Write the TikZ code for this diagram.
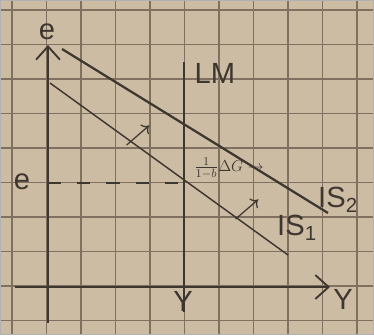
\documentclass[tikz,border=0pt]{standalone}
\usepackage{fontspec}
\setmainfont{Liberation Sans}
\usepackage{amsmath}
\usetikzlibrary{positioning, arrows.meta}
\definecolor{paper}{RGB}{205,188,164}
\definecolor{gridline}{RGB}{128,112,95}
\definecolor{pencil}{RGB}{62,55,48}

\begin{document}
\begin{tikzpicture}[
    x=0.0265cm, y=-0.0265cm,
    axis/.style={draw=pencil, line width=1.6pt, -{Straight Barb[length=10pt, width=18pt, line width=1.4pt]}},
    curve/.style={draw=pencil, line width=1.4pt},
    lbl/.style={text=pencil, font=\fontsize{22}{24}\selectfont, inner sep=0pt},
    smalllbl/.style={text=pencil, font=\fontsize{13}{14}\selectfont, inner sep=0pt},
    arrowmark/.style={text=pencil, font=\fontsize{17}{17}\selectfont\boldmath, inner sep=0pt}
]
    \fill[paper] (0,0) rectangle (374,335);
    \useasboundingbox (0,0) rectangle (374,335);
    \foreach \gx in {12,46.5,...,360}
        \draw[gridline, line width=0.8pt] (\gx,0) -- (\gx,335);
    \foreach \gy in {10,44.5,...,330}
        \draw[gridline, line width=0.8pt] (0,\gy) -- (374,\gy);
    \draw[gray!60, line width=1pt] (0.5,0.5) rectangle (373.5,334.5);

    \coordinate (ybot) at (48,323);
    \coordinate (ytop) at (48,45);
    \coordinate (xleft) at (15,287);
    \coordinate (xright) at (330,287);
    \coordinate (lmtop) at (184,62);
    \coordinate (lmbot) at (184,312);
    \coordinate (eaxis) at (48,183);
    \coordinate (eq) at (184,183);
    \coordinate (is1a) at (50,83);
    \coordinate (is1b) at (288,255);
    \coordinate (is2a) at (62,49);
    \coordinate (is2b) at (328,213);

    \draw[axis] (ybot) -- (ytop);
    \draw[axis] (xleft) -- (xright);
    \draw[curve] (lmtop) -- (lmbot);
    \draw[curve, line width=1.1pt] (is1a) -- (is1b);
    \draw[curve, line width=1.7pt] (is2a) -- (is2b);
    \draw[pencil, line width=1.2pt, dash pattern=on 10pt off 12pt] (eaxis) -- (eq);

    \node[lbl] (etop) at (47,32) {e};
    \node[lbl] (eleft) at (22,182) {e};
    \node[lbl] (lm) at (215,73) {LM};
    \node[lbl] (ylm) at (183,301) {Y};
    \node[lbl] (yaxis) at (343,299) {Y};
    \node[lbl] (is2) at (338,200) {IS\textsubscript{2}};
    \node[lbl] (is1) at (297,228) {IS\textsubscript{1}};
    \node[smalllbl] (shift) at (229,168) {$\frac{1}{1-b}\Delta G\rightarrow$};
    \node[arrowmark] (up1) at (138,136) {$\nearrow$};
    \node[arrowmark] (up2) at (247,210) {$\nearrow$};
\end{tikzpicture}
\end{document}
